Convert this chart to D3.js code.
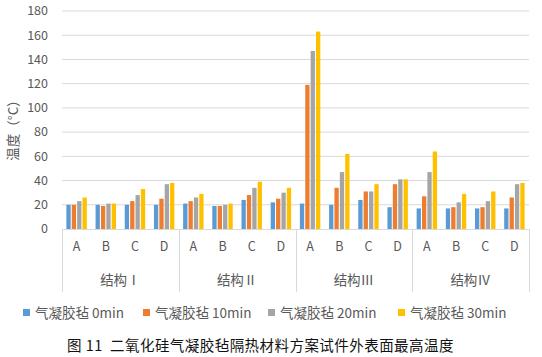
<!DOCTYPE html>
<html><head><meta charset="utf-8">
<script src="https://cdn.jsdelivr.net/npm/d3@7/dist/d3.min.js"></script>
<style>body{margin:0;background:#fff}svg{display:block}</style>
</head><body>
<svg id="c" width="542" height="357"></svg>
<script>
const groups = ["结构Ⅰ", "结构Ⅱ", "结构Ⅲ", "结构Ⅳ"];
const subCats = ["A", "B", "C", "D"];
const seriesNames = ["气凝胶毡 0min", "气凝胶毡 10min", "气凝胶毡 20min", "气凝胶毡 30min"];
const colors = ["#5B9BD5", "#ED7D31", "#A5A5A5", "#FFC000"];
// values per category (group I A..D, II A..D, III A..D, IV A..D)
const s0 = [20, 20, 20, 20, 21, 19, 24, 22, 21, 20, 24, 18, 17, 17, 17, 17];
const s10 = [20, 19, 23, 25, 23, 19, 28, 25, 119, 34, 31, 37, 27, 18, 18, 26];
const s20 = [23, 21, 28, 37, 26, 20, 34, 30, 147, 47, 31, 41, 47, 22, 23, 37];
const s30 = [26, 21, 33, 38, 29, 21, 39, 34, 163, 62, 37, 41, 64, 29, 31, 38];
const yTicks = [0, 20, 40, 60, 80, 100, 120, 140, 160, 180];
const caption = "图 11  二氧化硅气凝胶毡隔热材料方案试件外表面最高温度";
const yTitle = "温度（°C）";

const series = [s0, s10, s20, s30];
const cats = [];
groups.forEach((g, gi) => subCats.forEach((s, si) => cats.push({ key: gi + "-" + s, g: gi, s })));

const svg = d3.select("#c");
const font = "'Noto Sans CJK SC','Noto Sans',sans-serif";
const L = 62, R = 529, T = 11, B = 229;

const x = d3.scaleBand().domain(cats.map(d => d.key)).range([L, R]).paddingInner(0.3).paddingOuter(0.15);
const xs = d3.scaleBand().domain(d3.range(4)).range([0, x.bandwidth()]).paddingInner(0.2);
const y = d3.scaleLinear().domain([0, 180]).range([B, T]);

// gridlines
svg.append("g").selectAll("line").data(yTicks.slice(1)).join("line")
  .attr("x1", L).attr("x2", R).attr("y1", d => y(d)).attr("y2", d => y(d))
  .attr("stroke", "#D9D9D9").attr("stroke-width", 1);

// y tick labels
svg.append("g").selectAll("text").data(yTicks).join("text")
  .attr("x", 48).attr("y", d => y(d)).attr("dy", "0.35em").attr("text-anchor", "end")
  .attr("font-family", font).attr("font-size", 12.5).attr("fill", "#595959").text(d => d);

// bars
cats.forEach((c, ci) => {
  series.forEach((sv, si) => {
    svg.append("rect")
      .attr("x", x(c.key) + xs(si)).attr("width", xs.bandwidth())
      .attr("y", y(sv[ci])).attr("height", y(0) - y(sv[ci]))
      .attr("fill", colors[si]);
  });
});

// x axis line
svg.append("line").attr("x1", L).attr("x2", R).attr("y1", B + 0.5).attr("y2", B + 0.5)
  .attr("stroke", "#D9D9D9");
// group separators
const gw = (R - L) / groups.length;
d3.range(groups.length + 1).forEach(i => {
  const xx = Math.round(L + i * gw) + 0.5;
  svg.append("line").attr("x1", xx).attr("x2", xx).attr("y1", B).attr("y2", 292)
    .attr("stroke", "#D9D9D9");
});
// sub category labels
svg.append("g").selectAll("text").data(cats).join("text")
  .attr("x", d => x(d.key) + x.bandwidth() / 2).attr("y", 247).attr("dy", "0.35em")
  .attr("text-anchor", "middle").attr("font-family", font).attr("font-size", 12.5)
  .attr("fill", "#595959").text(d => d.s);
// group labels
svg.append("g").selectAll("text").data(groups).join("text")
  .attr("x", (d, i) => L + (i + 0.5) * gw).attr("y", 280).attr("dy", "0.35em")
  .attr("text-anchor", "middle").attr("font-family", font).attr("font-size", 13.5)
  .attr("fill", "#595959").text(d => d);

// y title
svg.append("text").attr("transform", "translate(13,127) rotate(-90)")
  .attr("text-anchor", "middle").attr("dy", "0.35em").attr("font-family", font)
  .attr("font-size", 13.5).attr("fill", "#595959").text(yTitle);

// legend
const legX = [23, 143, 268, 398];
seriesNames.forEach((n, i) => {
  svg.append("rect").attr("x", legX[i]).attr("y", 309).attr("width", 7).attr("height", 7).attr("fill", colors[i]);
  svg.append("text").attr("x", legX[i] + 12).attr("y", 313).attr("dy", "0.35em")
    .attr("font-family", font).attr("font-size", 13.5).attr("fill", "#595959").text(n);
});

// caption
svg.append("text").attr("x", 67).attr("y", 346).attr("dy", "0.35em")
  .attr("font-family", "'Noto Sans CJK SC',serif").attr("font-size", 14.5).attr("fill", "#111")
  .attr("letter-spacing", 0.45)
  .attr("xml:space", "preserve").style("white-space", "pre").text(caption);
</script>
</body></html>
